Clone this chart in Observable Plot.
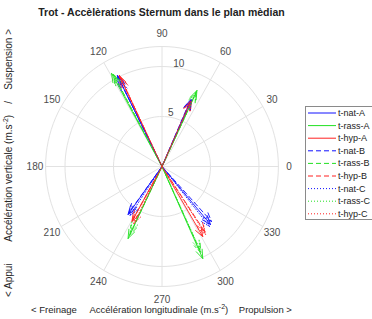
<!DOCTYPE html>
<html><head><meta charset="utf-8">
<script src="https://cdn.jsdelivr.net/npm/d3@7"></script>
<script src="https://cdn.jsdelivr.net/npm/@observablehq/plot@0.6"></script>
<style>body{margin:0;background:#fff}svg{display:block}</style>
</head><body><div id="chart"></div>
<script>
// Series (longitudinal x, vertical y) for the 4 phase vectors of each series
const seriesNames = ["t-nat-A","t-rass-A","t-hyp-A","t-nat-B","t-rass-B","t-hyp-B","t-nat-C","t-rass-C","t-hyp-C"];
const natA_x  = [-4.6, 3.0, -3.5, 5.0], natA_y  = [9.1, 6.7, -4.8, -5.8];
const rassA_x = [-5.2, 3.6, -3.5, 4.2], rassA_y = [9.3, 7.6, -7.2, -9.2];
const hypA_x  = [-4.4, 3.0, -3.1, 4.2], hypA_y  = [9.1, 6.6, -5.5, -7.0];
const natB_x  = [-4.5, 2.9, -3.4, 5.1], natB_y  = [8.9, 6.6, -4.6, -5.5];
const rassB_x = [-5.0, 3.5, -3.3, 4.0], rassB_y = [9.2, 7.4, -6.8, -8.6];
const hypB_x  = [-4.3, 3.0, -3.0, 4.4], hypB_y  = [8.9, 6.5, -5.3, -6.5];
const natC_x  = [-4.3, 3.0, -3.3, 4.9], natC_y  = [8.5, 6.6, -4.9, -6.0];
const rassC_x = [-4.9, 3.5, -3.2, 3.9], rassC_y = [9.0, 7.3, -6.5, -8.3];
const hypC_x  = [-4.2, 2.9, -2.9, 4.5], hypC_y  = [8.8, 6.5, -5.7, -6.8];
const ringTicks = [5, 10];
const rMax = 12;
const angleTicks = [0,30,60,90,120,150,180,210,240,270,300,330];

const seriesX = [natA_x, rassA_x, hypA_x, natB_x, rassB_x, hypB_x, natC_x, rassC_x, hypC_x];
const seriesY = [natA_y, rassA_y, hypA_y, natB_y, rassB_y, hypB_y, natC_y, rassC_y, hypC_y];
const colors = ["#1010ff","#22e022","#ff2020"];
const dashes = ["none","5,3","1,2"];

const cx = 161.5, cy = 166, kx = 9.7, ky = 10;
const rad = d => d * Math.PI / 180;
const grid = "#e2e2e2";

const rings = [...ringTicks, rMax].flatMap(r => d3.range(0, 361, 3).map(a => ({r, x: r*Math.cos(rad(a)), y: r*Math.sin(rad(a))})));

const arrowMarks = seriesNames.map((name, i) => {
  const rows = seriesX[i].map((x, j) => ({x, y: seriesY[i][j]}));
  return Plot.arrow(rows, {x1: d => 0, y1: d => 0, x2: "x", y2: "y",
    stroke: colors[i % 3], strokeDasharray: dashes[Math.floor(i/3)],
    strokeWidth: 1, headLength: 14, headAngle: 40, inset: 0, bend: 0, strokeOpacity: 0.9});
});

const plot = Plot.plot({
  width: 372, height: 319, margin: 0,
  x: {domain: [0, 1], range: [cx, cx + kx], axis: null},
  y: {domain: [0, 1], range: [cy, cy - ky], axis: null},
  marks: [
    Plot.line(rings, {x: "x", y: "y", z: "r", stroke: grid, strokeWidth: 1}),
    Plot.link(angleTicks, {x1: d => 0, y1: d => 0, x2: a => rMax*Math.cos(rad(a)), y2: a => rMax*Math.sin(rad(a)), stroke: grid, strokeWidth: 1}),
    Plot.text(angleTicks, {x: a => 13.1*Math.cos(rad(a)), y: a => 13.3*Math.sin(rad(a)), text: a => String(a), fill: "#4d4d4d", fontSize: 10}),
    Plot.text(ringTicks, {x: r => (r+0.45)*Math.cos(rad(80.5)), y: r => (r+0.45)*Math.sin(rad(80.5)), text: r => String(r), fill: "#4d4d4d", fontSize: 10}),
    ...arrowMarks
  ],
  style: {fontFamily: "'Liberation Sans', Arial, sans-serif", background: "#fff"}
});

const svg = d3.select(plot);
const ff = "'Liberation Sans', Arial, sans-serif";
svg.append("text").attr("x", 161.5).attr("y", 16).attr("text-anchor", "middle")
  .attr("font-family", ff).attr("font-size", 10.5).attr("font-weight", "bold").attr("fill", "#222")
  .text("Trot - Accèlèrations Sternum dans le plan mèdian");

const xl = svg.append("text").attr("x", 161.5).attr("y", 313).attr("text-anchor", "middle")
  .attr("font-family", ff).attr("font-size", 9.5).attr("fill", "#262626").attr("xml:space", "preserve");
xl.append("tspan").text("< Freinage     Accélération longitudinale (m.s");
xl.append("tspan").attr("dy", -4).attr("font-size", 7).text("-2");
xl.append("tspan").attr("dy", 4).text(")    Propulsion >");

const yl = svg.append("text").attr("transform", "translate(12,163) rotate(-90)").attr("text-anchor", "middle")
  .attr("font-family", ff).attr("font-size", 10).attr("fill", "#262626").attr("xml:space", "preserve");
yl.append("tspan").text("< Appui        Accélération verticale (m.s");
yl.append("tspan").attr("dy", -4).attr("font-size", 7).text("-2");
yl.append("tspan").attr("dy", 4).text(")    /    Suspension >");

// Legend
const lg = svg.append("g");
lg.append("rect").attr("x", 305.5).attr("y", 106.5).attr("width", 80).attr("height", 113)
  .attr("fill", "#fff").attr("stroke", "#8a8a8a").attr("stroke-width", 1);
seriesNames.forEach((name, i) => {
  const yy = 113 + i * 12.6;
  lg.append("line").attr("x1", 308).attr("x2", 336).attr("y1", yy).attr("y2", yy)
    .attr("stroke", colors[i % 3]).attr("stroke-width", 1).attr("stroke-dasharray", dashes[Math.floor(i/3)]);
  lg.append("text").attr("x", 338).attr("y", yy + 3).attr("text-anchor", "start")
    .attr("font-family", ff).attr("font-size", 9).attr("fill", "#222").text(name);
});

document.getElementById("chart").appendChild(plot);
</script></body></html>
